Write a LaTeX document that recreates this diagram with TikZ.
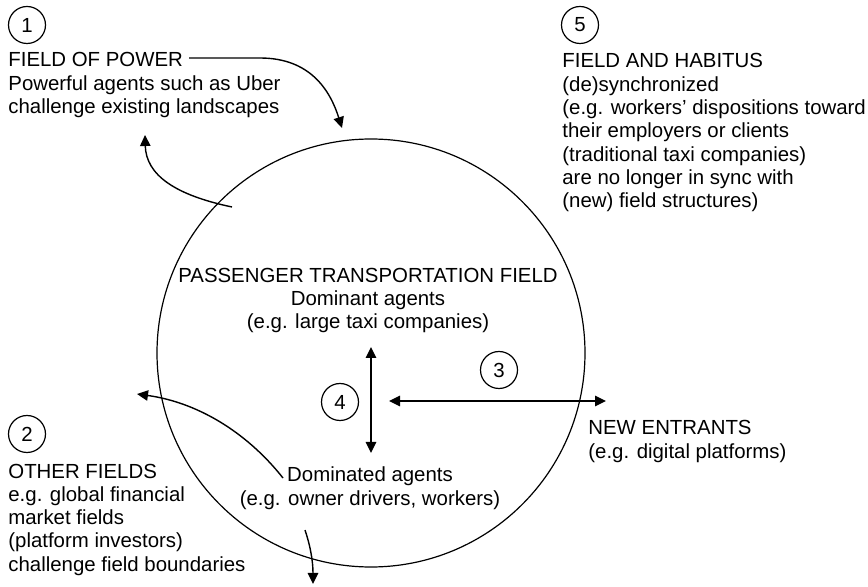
\documentclass[tikz,border=0pt]{standalone}
\usepackage{fontspec}
\setmainfont{Liberation Sans}
\usetikzlibrary{arrows.meta}

\begin{document}
\begin{tikzpicture}[x=0.5pt, y=-0.5pt,
		txt/.style={align=left, anchor=base west, inner sep=0pt, font=\fontsize{10.2}{11.65}\selectfont},
		num/.style={draw, circle, line width=0.6pt, minimum size=18.5pt, inner sep=0pt, font=\fontsize{10.2}{12}\selectfont},
		arr/.style={line width=0.7pt, -{Triangle[length=5.5pt, width=5.2pt]}},
		twoway/.style={line width=0.7pt, {Triangle[length=5.5pt, width=5.2pt]}-{Triangle[length=5.5pt, width=5.2pt]}}]

	\useasboundingbox (0,0) rectangle (868,587);

	% the passenger transportation field
	\node[draw, circle, line width=0.6pt, minimum size=214pt, inner sep=0pt] (ring) at (371,353) {};

	% field of power (base is the last line)
	\node[num] (n1) at (27,25) {1};
	\node[txt] (power) at (8,113.6) {FIELD OF POWER\\Powerful agents such as Uber\\challenge existing landscapes};

	% field and habitus
	\node[num] (n5) at (580,25) {5};
	\node[txt] (habitus) at (562,207.8) {FIELD AND HABITUS\\(de)synchronized\\(e.g. workers’ dispositions toward\\their employers or clients\\(traditional taxi companies)\\are no longer in sync with\\(new) field structures)};

	% inside the circle
	\node[txt, align=center, anchor=base] (dominant) at (368,329) {PASSENGER TRANSPORTATION FIELD\\Dominant agents\\(e.g. large taxi companies)};
	\node[txt, align=center, anchor=base] (dominated) at (370,505.3) {Dominated agents\\(e.g. owner drivers, workers)};
	\node[num] (n4) at (340,402) {4};
	\node[num] (n3) at (499,370) {3};

	% new entrants
	\node[txt] (entrants) at (588,458.3) {NEW ENTRANTS\\(e.g. digital platforms)};

	% other fields
	\node[num] (n2) at (27,434) {2};
	\node[txt] (other) at (8,571.2) {OTHER FIELDS\\e.g. global financial\\market fields\\(platform investors)\\challenge field boundaries};

	% arrow ends
	\coordinate (powerfrom) at (189,58);
	\coordinate (powerto) at (342,128);
	\coordinate (backfrom) at (232,207);
	\coordinate (backto) at (145,135);
	\coordinate (upper) at (371,347);
	\coordinate (lower) at (371,453);
	\coordinate (inside) at (389,401);
	\coordinate (outside) at (606,401);
	\coordinate (otherfrom) at (283,478);
	\coordinate (otherto) at (137,394);
	\coordinate (downfrom) at (305,530);
	\coordinate (downto) at (313,584);

	\draw[arr] (powerfrom) -- (260,58) .. controls (310,58) and (330,90) .. (powerto);
	\draw[arr] (backfrom) .. controls (175,195) and (146,175) .. (backto);
	\draw[twoway] (upper) -- (lower);
	\draw[twoway] (inside) -- (outside);
	\draw[arr] (otherfrom) .. controls (245,430) and (195,402) .. (otherto);
	\draw[arr] (downfrom) .. controls (310,545) and (313,560) .. (downto);

\end{tikzpicture}
\end{document}
